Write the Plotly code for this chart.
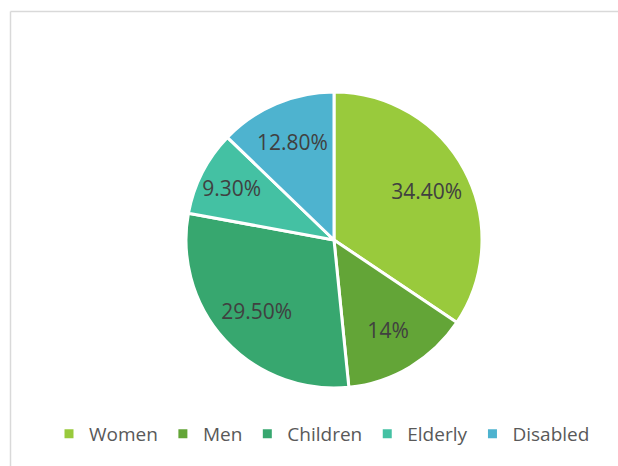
import plotly.graph_objects as go

groups = ["Women", "Men", "Children", "Elderly", "Disabled"]
shares = [34.4, 14, 29.5, 9.3, 12.8]
share_labels = ["34.40%", "14%", "29.50%", "9.30%", "12.80%"]
colors = ["#99CA3C", "#63A537", "#37A76F", "#44C1A3", "#4EB3CF"]

W, H = 618, 466
pie_domain = dict(x=[186 / W, 482 / W], y=[1 - 388 / H, 1 - 92 / H])

fig = go.Figure()
# the coloured slices
fig.add_trace(go.Pie(
    labels=groups,
    values=shares,
    textinfo="none",
    marker=dict(colors=colors, line=dict(color="white", width=3)),
    sort=False,
    direction="clockwise",
    rotation=0,
    domain=pie_domain,
))
# transparent ring on top, only to push the labels outward like Excel does
fig.add_trace(go.Pie(
    labels=groups,
    values=shares,
    text=share_labels,
    texttemplate="%{text}",
    textposition="inside",
    insidetextorientation="horizontal",
    textfont=dict(family="Open Sans, sans-serif", size=21, color="#404040"),
    marker=dict(colors=["rgba(0,0,0,0)"] * len(groups), line=dict(width=0)),
    hole=0.42,
    sort=False,
    direction="clockwise",
    rotation=0,
    domain=pie_domain,
    showlegend=False,
    hoverinfo="skip",
))

# chart-area frame (only left and top edges visible in the crop)
fig.add_shape(type="line", xref="paper", yref="paper",
              x0=10.5 / W, y0=0, x1=10.5 / W, y1=1 - 11.5 / H,
              line=dict(color="#D9D9D9", width=1.5))
fig.add_shape(type="line", xref="paper", yref="paper",
              x0=10.5 / W, y0=1 - 11.5 / H, x1=1, y1=1 - 11.5 / H,
              line=dict(color="#D9D9D9", width=1.5))

fig.update_layout(
    width=W, height=H,
    margin=dict(l=0, r=0, t=0, b=0),
    paper_bgcolor="white",
    plot_bgcolor="white",
    showlegend=True,
    uniformtext=dict(minsize=21, mode="show"),
    legend=dict(
        orientation="h",
        x=322 / W, xanchor="center",
        y=1 - 434 / H, yanchor="middle",
        font=dict(family="Open Sans, sans-serif", size=19, color="#595959"),
        itemwidth=30,
        tracegroupgap=0,
    ),
)

fig.write_html("out.html", config={"displayModeBar": False},
               post_script="document.body.style.margin='0';")
